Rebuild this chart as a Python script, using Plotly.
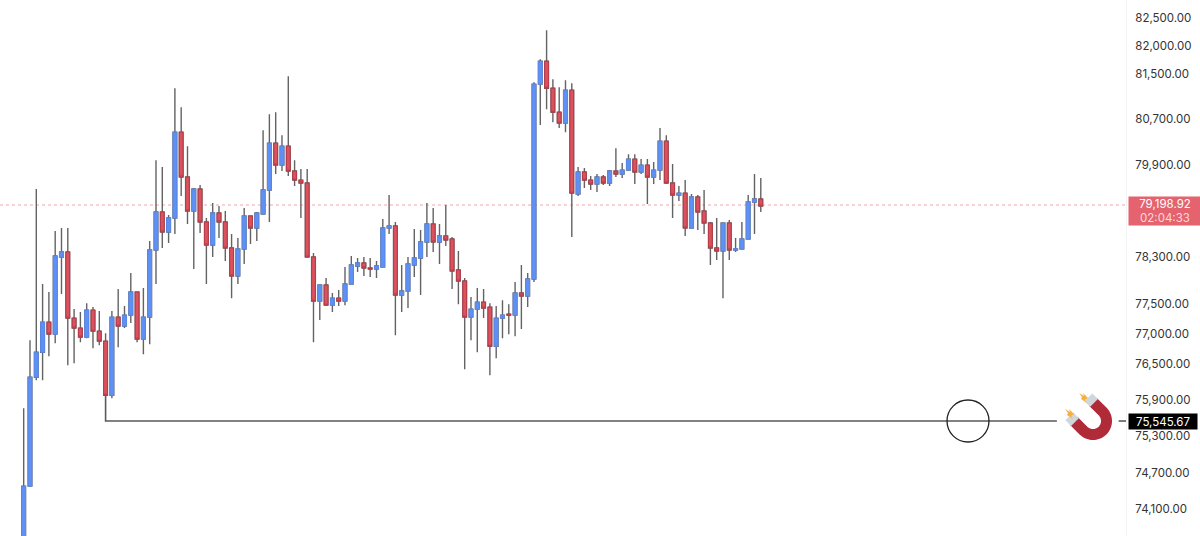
import math
import plotly.graph_objects as go

idx = list(range(1, 119))
opens = [73250, 74477, 76273, 76690, 77197, 76994, 78304, 78390, 77265, 77096, 76944, 77400, 77045, 76876, 75972, 77282, 77130, 77315, 77706, 76910,
         77282, 78424, 79078, 78734, 78975, 80471, 79685, 79095, 79476, 78906, 78510, 79061, 78906, 78459, 77980, 78442, 79009, 78803, 79044, 79459,
         80278, 79893, 80225, 79789, 79632, 79580, 78304, 77552, 77826, 77484, 77603, 77552, 77843, 78151, 78202, 78116, 78099, 78133, 78803, 78837,
         77655, 77723, 78168, 78287, 78562, 78871, 78562, 78665, 78614, 78082, 77894, 77282, 77417, 77535, 77451, 76791, 77265, 77332, 77315, 77689,
         77638, 77928, 81320, 81729, 81248, 80823, 80630, 81213, 79389, 79772, 79632, 79563, 79685, 79580, 79789, 79737, 79806, 79998, 79772, 79893,
         79685, 79806, 80313, 79580, 79372, 79406, 78803, 79337, 79095, 78888, 78459, 78407, 78888, 78424, 78442, 78614, 79250, 79302]
highs = [75756, 76893, 79476, 77843, 77706, 78751, 78803, 78803, 77417, 77366, 77518, 77451, 77383, 77011, 77383, 77757, 77468, 78031, 77706, 77774,
         78579, 79980, 79859, 79026, 81248, 80911, 80225, 79493, 79545, 78975, 79233, 79181, 79095, 78699, 78631, 79147, 79009, 79078, 80506, 80788,
         80823, 80418, 81462, 79980, 79824, 79824, 78373, 77826, 77945, 77689, 77740, 78133, 78321, 78287, 78304, 78287, 78236, 78957, 79372, 78906,
         78168, 78304, 78785, 78768, 79233, 79147, 78871, 79198, 78648, 78407, 77945, 77621, 77774, 77757, 77518, 77468, 77569, 77501, 77877, 78168,
         78031, 81355, 81765, 82285, 81409, 81266, 81391, 81337, 79859, 79841, 79702, 79737, 79719, 79806, 80190, 79928, 80085, 80085, 79998, 79998,
         79946, 80542, 80418, 79911, 79528, 79632, 79389, 79372, 79459, 78906, 78975, 78888, 78940, 78631, 78906, 79372, 79737, 79667]
lows = [73100, 74477, 76223, 76223, 76623, 76842, 77672, 76473, 76507, 76859, 76927, 76758, 76809, 75972, 75922, 76775, 77096, 77180, 76859, 76657,
        76825, 77843, 78459, 78545, 78699, 79354, 78871, 78099, 78717, 77843, 78304, 78631, 78236, 77603, 77843, 78185, 78527, 78579, 79044, 78906,
        79737, 79789, 79702, 79528, 78975, 78304, 76859, 77231, 77484, 77366, 77468, 77484, 77843, 78048, 77980, 77963, 77945, 78133, 78699, 76977,
        77366, 77434, 77963, 77655, 78304, 78390, 78185, 78493, 77757, 77501, 76406, 76893, 76690, 77265, 76305, 76590, 76927, 76994, 76960, 77079,
        77451, 77877, 80595, 80876, 80647, 80542, 80471, 78648, 79354, 79493, 79459, 79424, 79545, 79528, 79685, 79667, 79806, 79563, 79737, 79215,
        79563, 79632, 79563, 78975, 79267, 78665, 78803, 78768, 78699, 78168, 78253, 77603, 78253, 78390, 78442, 78614, 78699, 79078]
closes = [74477, 76273, 76690, 77197, 76994, 78321, 78390, 77265, 77096, 76944, 77400, 77045, 76876, 75972, 77282, 77130, 77315, 77706, 76910, 77282,
          78424, 79078, 78734, 78975, 80471, 79685, 79095, 79476, 78906, 78510, 79061, 78906, 78459, 77980, 78442, 79009, 78803, 79061, 79459, 80278,
          79893, 80225, 79789, 79632, 79580, 78304, 77552, 77826, 77484, 77603, 77552, 77843, 78168, 78202, 78116, 78099, 78151, 78803, 78837, 77655,
          77723, 78185, 78287, 78562, 78871, 78562, 78665, 78596, 78065, 77894, 77282, 77417, 77535, 77434, 76791, 77265, 77315, 77315, 77689, 77638,
          77928, 81320, 81729, 81248, 80823, 80630, 81213, 79406, 79772, 79632, 79563, 79685, 79580, 79789, 79737, 79806, 79998, 79772, 79893, 79685,
          79806, 80313, 79580, 79372, 79406, 78803, 79337, 79078, 78888, 78459, 78407, 78888, 78424, 78442, 78614, 79250, 79302, 79181]

tick_vals = [82500, 82000, 81500, 80700, 79900, 78300, 77500, 77000, 76500, 75900, 75300, 74700, 74100]
tick_text = ["82,500.00", "82,000.00", "81,500.00", "80,700.00", "79,900.00", "78,300.00", "77,500.00",
             "77,000.00", "76,500.00", "75,900.00", "75,300.00", "74,700.00", "74,100.00"]
last_price = 79198.92
level_price = 75545.67

BLUE = "#5e90f5"
RED = "#db525e"
W, H = 1200, 536
PLOT_W = 1126
X_RANGE = [-2.76, 175.97]
Y_RANGE = [73670, 82830]


def pap(x, y):
    return f"{x / PLOT_W:.5f},{1 - y / H:.5f}"


def poly(points):
    return "M " + " L ".join(pap(x, y) for x, y in points) + " Z"


# magnet icon, opens to the upper left
cx, cy = 1093, 421
ux, uy = -0.707, -0.707
nx, ny = 0.707, -0.707


def to_xy(a, b):
    return cx + a * ux + b * nx, cy + a * uy + b * ny


u_shape = [to_xy(14, 19)]
for k in range(0, 37):
    t = math.radians(k * 5)
    u_shape.append(to_xy(-19 * math.sin(t), 19 * math.cos(t)))
u_shape.append(to_xy(14, -19))
u_shape.append(to_xy(14, -8))
for k in range(36, -1, -1):
    t = math.radians(k * 5)
    u_shape.append(to_xy(-8 * math.sin(t), 8 * math.cos(t)))
u_shape.append(to_xy(14, 8))

tip_a = [to_xy(12, 19), to_xy(20, 19), to_xy(20, 8), to_xy(12, 8)]
tip_b = [to_xy(12, -19), to_xy(20, -19), to_xy(20, -8), to_xy(12, -8)]
spark_a = [(1065, 409), (1070, 412), (1069, 409), (1074, 414), (1071, 416), (1073, 419), (1067, 415), (1068, 413)]
spark_b = [(1079, 393), (1084, 396), (1083, 393), (1088, 398), (1085, 400), (1087, 403), (1081, 399), (1082, 397)]

fig = go.Figure()

# wicks
fig.add_trace(go.Candlestick(
    x=idx, open=opens, high=highs, low=lows, close=closes,
    increasing=dict(line=dict(color="#636363", width=1.4), fillcolor="rgba(0,0,0,0)"),
    decreasing=dict(line=dict(color="#636363", width=1.4), fillcolor="rgba(0,0,0,0)"),
    whiskerwidth=0, hoverinfo="skip", showlegend=False))

# bodies
body_hi = [max(o, c) for o, c in zip(opens, closes)]
body_lo = [min(o, c) for o, c in zip(opens, closes)]
fig.add_trace(go.Candlestick(
    x=idx, open=opens, high=body_hi, low=body_lo, close=closes,
    increasing=dict(line=dict(color="#5a8cf0", width=1), fillcolor=BLUE),
    decreasing=dict(line=dict(color="#b93a48", width=1), fillcolor=RED),
    whiskerwidth=0, hoverinfo="skip", showlegend=False))

# level line from the low candle to the right edge
fig.add_trace(go.Scatter(
    x=[14, 14, 165, None, 174.8, X_RANGE[1]],
    y=[closes[13], level_price, level_price, None, level_price, level_price],
    mode="lines", line=dict(color="#5a5a5a", width=1.6),
    hoverinfo="skip", showlegend=False))

shapes = [
    dict(type="line", xref="paper", x0=0, x1=1, y0=last_price, y1=last_price, yref="y",
         line=dict(color="#f2a6ac", width=1, dash="dot"), layer="below"),
    dict(type="circle", xref="paper", yref="paper", x0=947 / PLOT_W, x1=989 / PLOT_W,
         y0=1 - 442 / H, y1=1 - 400 / H, line=dict(color="#222222", width=1.3)),
    dict(type="path", xref="paper", yref="paper", path=poly(u_shape), fillcolor="#b02a38", line=dict(width=0)),
    dict(type="path", xref="paper", yref="paper", path=poly(tip_a), fillcolor="#cfd6dc", line=dict(width=0)),
    dict(type="path", xref="paper", yref="paper", path=poly(tip_b), fillcolor="#cfd6dc", line=dict(width=0)),
    dict(type="path", xref="paper", yref="paper", path=poly(spark_a), fillcolor="#f6b040", line=dict(width=0)),
    dict(type="path", xref="paper", yref="paper", path=poly(spark_b), fillcolor="#f6b040", line=dict(width=0)),
]

annotations = [
    dict(xref="paper", yref="paper", x=1128 / PLOT_W, y=1 - 211 / H, xanchor="left", yanchor="middle",
         text="79,198.92<br><span style='color:#fbd9dc'>02:04:33</span>", showarrow=False, align="center",
         font=dict(family="Inter, sans-serif", size=11.5, color="white"),
         bgcolor="#e4636e", width=72, height=28, borderpad=0),
    dict(xref="paper", yref="paper", x=1128 / PLOT_W, y=1 - 421.5 / H, xanchor="left", yanchor="middle",
         text="75,545.67", showarrow=False, align="center",
         font=dict(family="Inter, sans-serif", size=11.5, color="white"),
         bgcolor="#000000", width=68, height=15, borderpad=0),
]

fig.update_layout(
    width=W, height=H, margin=dict(l=0, r=W - PLOT_W, t=0, b=0),
    paper_bgcolor="white", plot_bgcolor="white", showlegend=False,
    boxgap=0.15, shapes=shapes, annotations=annotations,
    xaxis=dict(range=X_RANGE, rangeslider=dict(visible=False), showgrid=False, zeroline=False,
               showticklabels=False, ticks=""),
    yaxis=dict(type="log", side="right", range=[math.log10(Y_RANGE[0]), math.log10(Y_RANGE[1])],
               tickmode="array", tickvals=tick_vals, ticktext=tick_text, showgrid=False, zeroline=False,
               ticks="", ticklabelstandoff=6, showline=True, linecolor="#f3f3f3", linewidth=1,
               tickfont=dict(family="Inter, sans-serif", size=11.5, color="#333333")),
)

# page has a default body margin, drop it so the chart sits at 0,0
fig.write_html("out.html", config=dict(displayModeBar=False),
               post_script="document.body.style.margin='0';document.body.style.overflow='hidden';")
